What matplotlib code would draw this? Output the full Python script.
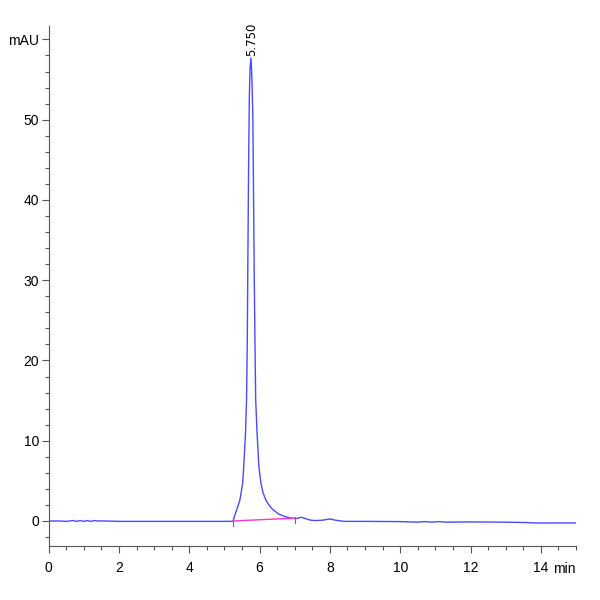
import matplotlib
matplotlib.use("Agg")
import matplotlib.pyplot as plt
from matplotlib.ticker import MultipleLocator

# Chromatogram trace (time in min, signal in mAU)
time = [0.0, 0.3, 0.5, 0.7, 0.8, 0.9, 1.0, 1.1, 1.2, 1.3, 1.4, 1.6, 2.0, 3.0, 4.0, 5.0, 5.20,
        5.25, 5.28, 5.35, 5.44, 5.52, 5.55, 5.60, 5.63, 5.65, 5.67, 5.69, 5.71, 5.73, 5.755,
        5.77, 5.79, 5.81, 5.83, 5.85, 5.87, 5.89, 5.93, 5.98, 6.04, 6.10, 6.18, 6.28, 6.39,
        6.55, 6.72, 6.90, 7.05, 7.19, 7.30, 7.45, 7.60, 7.80, 8.00, 8.15, 8.40, 9.0, 10.0,
        10.5, 10.7, 10.9, 11.1, 11.3, 12.0, 13.0, 13.6, 13.8, 14.0, 15.0]
signal = [0.0, 0.0, -0.05, 0.05, -0.05, 0.05, -0.05, 0.05, -0.05, 0.05, 0.0, 0.0, -0.05, -0.05,
          -0.05, -0.05, -0.05,
          0.0, 0.5, 1.4, 2.6, 4.7, 6.8, 10.9, 15.1, 22.0, 34.0, 45.0, 53.0, 56.5, 57.7,
          56.5, 54.0, 50.0, 40.0, 30.0, 22.0, 15.1, 10.9, 6.8, 4.7, 3.5, 2.6, 1.9, 1.37,
          0.85, 0.54, 0.35, 0.3, 0.46, 0.3, 0.1, 0.05, 0.1, 0.25, 0.1, -0.05, -0.05, -0.08,
          -0.15, -0.08, -0.15, -0.08, -0.15, -0.12, -0.15, -0.2, -0.25, -0.25, -0.25]

# integration baseline and peak label
base_t = [5.25, 7.0]
base_y = [0.0, 0.35]
peak_rt = 5.750
peak_h = 57.7

plt.rcParams["font.family"] = ["Liberation Sans", "DejaVu Sans"]

fig = plt.figure(figsize=(6, 6), dpi=100)
ax = fig.add_axes([0.081, 0.09, 0.879, 0.867])

ax.plot(time, signal, color="#4a4aff", linewidth=1.0)
ax.plot(base_t, base_y, color="#ff33cc", linewidth=1.0)
for bt, by in zip(base_t, base_y):
    ax.plot([bt, bt], [by - 0.6, by + 0.2], color="#707070", linewidth=0.8)

ax.text(peak_rt + 0.02, peak_h + 0.2, f"{peak_rt:.3f}", rotation=90, ha="center", va="bottom",
        fontsize=8.5, family="DejaVu Sans")

ax.set_xlim(0, 15)
ax.set_ylim(-3.12, 61.7)
ax.xaxis.set_major_locator(MultipleLocator(2))
ax.xaxis.set_minor_locator(MultipleLocator(0.5))
ax.set_yticks([0, 10, 20, 30, 40, 50, 60])
ax.set_yticklabels(["0", "10", "20", "30", "40", "50", "mAU"])
ax.yaxis.set_minor_locator(MultipleLocator(2))

for s in ["top", "right"]:
    ax.spines[s].set_visible(False)
for s in ["left", "bottom"]:
    ax.spines[s].set_color("#555555")
    ax.spines[s].set_linewidth(0.8)
ax.tick_params(which="major", length=5, width=0.8, color="#555555", labelsize=10, pad=2)
ax.tick_params(which="minor", length=3, width=0.8, color="#555555")
ax.tick_params(axis="x", pad=6)

ax.text(1.0, -0.045, "min", transform=ax.transAxes, ha="right", va="center", fontsize=10)

fig.savefig("out.png", dpi=100)
